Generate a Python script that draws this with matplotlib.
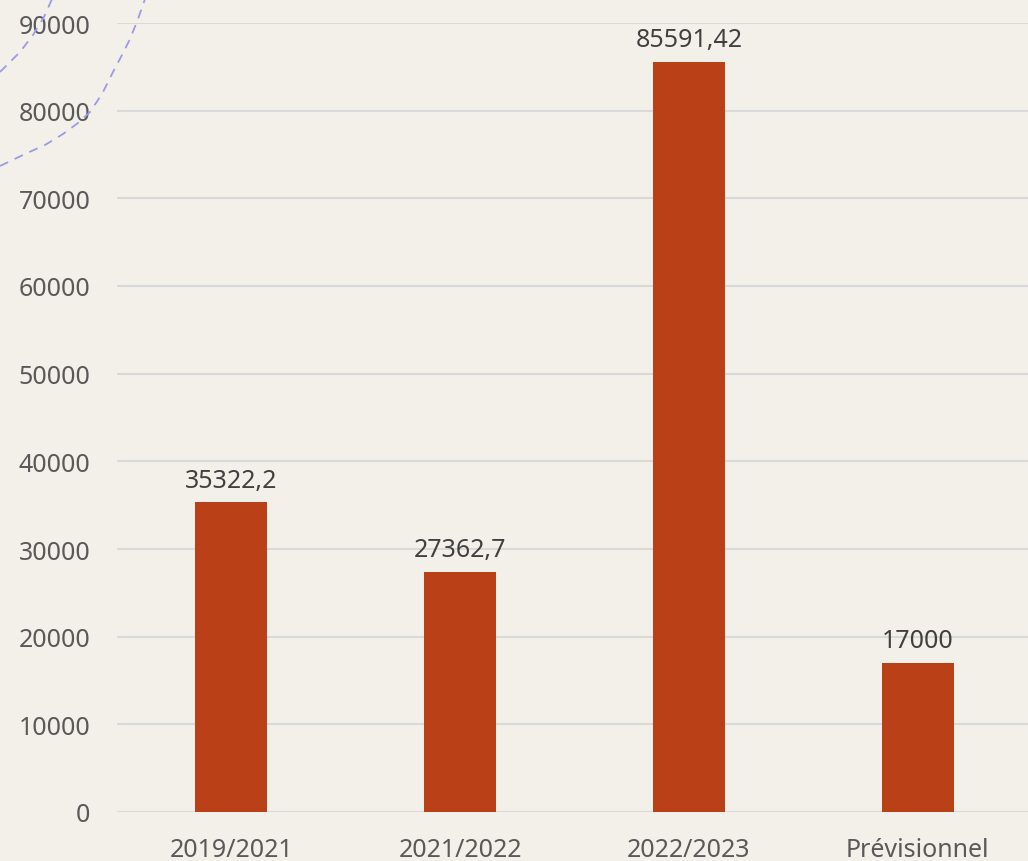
import numpy as np
import matplotlib.pyplot as plt
from matplotlib.lines import Line2D

categories = ["2019/2021", "2021/2022", "2022/2023", "Prévisionnel"]
values = [35322.2, 27362.7, 85591.42, 17000]
value_labels = ["35322,2", "27362,7", "85591,42", "17000"]

BG = "#f3f0ea"
BAR = "#b94017"
TEXT = "#595959"
GRID = "#d9d9d9"

plt.rcParams["font.family"] = ["Noto Sans", "DejaVu Sans"]

W, H = 1028, 862
fig = plt.figure(figsize=(W / 100, H / 100), dpi=100, facecolor=BG)
ax = fig.add_axes([117 / W, (H - 813) / H, (1032 - 117) / W, (813 - 24) / H])
ax.set_facecolor(BG)

x = np.arange(len(categories))
bars = ax.bar(x, values, width=0.315, color=BAR, zorder=3)
ax.bar_label(bars, labels=value_labels, padding=7, fontsize=18, color="#404040")

ax.set_xlim(-0.5, 3.5)
ax.set_ylim(0, 90000)
ax.set_yticks(np.arange(0, 90001, 10000))
ax.set_yticklabels([str(v) for v in range(0, 90001, 10000)])
ax.set_xticks(x)
ax.set_xticklabels(categories)
ax.tick_params(axis="both", length=0, labelsize=18, labelcolor=TEXT)
ax.tick_params(axis="y", pad=19)
ax.tick_params(axis="x", pad=18)
ax.yaxis.grid(True, color=GRID, linewidth=1.5, zorder=0)
for s in ax.spines.values():
    s.set_visible(False)

# decorative dashed curves in the top-left corner
def px_curve(pts):
    xs = [p[0] / W for p in pts]
    ys = [1 - p[1] / H for p in pts]
    return Line2D(xs, ys, transform=fig.transFigure, color="#9a9ae8",
                  linestyle=(0, (5, 4)), linewidth=1.3, zorder=5)

fig.add_artist(px_curve([(0, 73), (10, 63), (20, 53), (33, 36), (44, 18), (52, 0)]))
fig.add_artist(px_curve([(0, 167), (25, 155), (45, 146), (63, 135), (78, 124),
                         (90, 113), (102, 95), (113, 73), (122, 56), (130, 40),
                         (138, 20), (145, 0)]))

fig.savefig("out.png", dpi=100, facecolor=BG)
